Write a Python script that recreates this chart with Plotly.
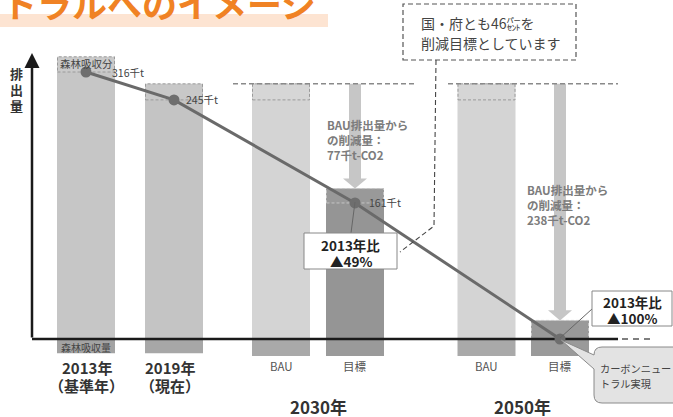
import plotly.graph_objects as go

W, H = 673, 417

# ---------------- data ----------------
bar_names = ["2013年", "2019年", "BAU", "目標", "BAU", "目標"]
bar_groups = ["2013", "2019", "2030", "2030", "2050", "2050"]
# emission heights as drawn in the picture (illustration, not strictly to scale), 千t-CO2
drawn_emission = [316, 283, 283, 161, 283, 0]
# forest-absorption box on top of each bar (drawn)
forest_sink = [18, 19, 19, 17, 19, 22]
# forest-absorption part drawn below the baseline
sink_below = [17, 17, 20, 20, 20, 20]
# points of the emission path (index into bars) and their labels
path_bars = [0, 1, 3, 5]
path_labels = ["316千t", "245千t", "161千t", ""]
reduction_labels = ["BAU排出量から<br>の削減量：<br>77千t-CO2",
                    "BAU排出量から<br>の削減量：<br>238千t-CO2"]
ratio_line1 = ["2013年比", "2013年比"]
ratio_line2 = ["▲49%", "▲100%"]
year_labels = ["2013年", "2019年"]
year_sub = ["（基準年）", "（現在）"]
period_labels = ["2030年", "2050年"]

# ---------------- layout constants ----------------
FONT = "Noto Sans CJK JP"
bar_centers = [86, 174, 281, 355, 486.5, 560]
bar_width = 58
base_px = 339
k = 267 / 316                      # px per unit
y_top = base_px / k
y_bot = -(H - base_px) / k

body_colors = ["#c6c6c6", "#c4c4c4", "#d4d4d4", "#959595", "#d4d4d4", "#959595"]
forest_colors = ["#cacaca", "#c8c8c8", "#d6d6d6", "#999999", "#d6d6d6", "#999999"]
below_colors = ["#a3a3a3", "#a7a7a7", "#a9a9a9", "#9a9a9a", "#a9a9a9", "#9a9a9a"]


def X(px):
    return px / W


def Y(py):
    return 1 - py / H


fig = go.Figure()

# bars: body, forest box, below-baseline part
fig.add_trace(go.Bar(x=bar_centers, y=drawn_emission, base=[0] * 6, width=bar_width,
                     marker=dict(color=body_colors, line=dict(width=0)), hoverinfo="skip"))
fig.add_trace(go.Bar(x=bar_centers, y=forest_sink, base=drawn_emission, width=bar_width,
                     marker=dict(color=forest_colors, line=dict(width=0)), hoverinfo="skip"))
fig.add_trace(go.Bar(x=bar_centers, y=sink_below, base=[-v for v in sink_below], width=bar_width,
                     marker=dict(color=below_colors, line=dict(width=0)), hoverinfo="skip"))

# dashed outlines of forest boxes
for dark in (False, True):
    xs, ys = [], []
    for i, c in enumerate(bar_centers):
        if (body_colors[i] == "#959595") != dark:
            continue
        x0, x1 = c - bar_width / 2 + 0.5, c + bar_width / 2 - 0.5
        y0, y1 = drawn_emission[i], drawn_emission[i] + forest_sink[i]
        xs += [x0, x1, x1, x0, x0, None]
        ys += [y0, y0, y1, y1, y0, None]
    fig.add_trace(go.Scatter(x=xs, y=ys, mode="lines", hoverinfo="skip",
                             line=dict(color="#c4c4c4" if dark else "#9a9a9a", width=1, dash="3px,2px")))

# baseline
fig.add_trace(go.Scatter(x=[32, 618], y=[0, 0], mode="lines", hoverinfo="skip",
                         line=dict(color="#1a1a1a", width=2.5)))
fig.add_trace(go.Scatter(x=[622, 650], y=[0, 0], mode="lines", hoverinfo="skip",
                         line=dict(color="#555555", width=1.5, dash="6px,5px")))

# emission path
px_pts = [bar_centers[i] for i in path_bars]
py_pts = [drawn_emission[i] for i in path_bars]
fig.add_trace(go.Scatter(x=px_pts, y=py_pts, mode="lines+markers", hoverinfo="skip",
                         line=dict(color="#6a6a6a", width=3),
                         marker=dict(color="#6e6e6e", size=11)))

shapes = []
# BAU level dashed line
bau_top = drawn_emission[2] + forest_sink[2]
for x0, x1 in [(233, 417), (448, 618)]:
    shapes.append(dict(type="line", xref="x", yref="y", x0=x0, x1=x1, y0=bau_top, y1=bau_top,
                       line=dict(color="#8a8a8a", width=1.5, dash="5px,3px"), layer="above"))

# reduction arrows (from BAU level down to target top)
for ti in (3, 5):
    c = bar_centers[ti]
    tip = drawn_emission[ti] + forest_sink[ti]
    hh = 12
    path = (f"M {c-6},{bau_top} L {c+6},{bau_top} L {c+6},{tip+hh} L {c+12},{tip+hh} "
            f"L {c},{tip} L {c-12},{tip+hh} L {c-6},{tip+hh} Z")
    shapes.append(dict(type="path", xref="x", yref="y", path=path,
                       fillcolor="#c6c6c6", line=dict(width=0), layer="below"))

# title band
shapes.append(dict(type="rect", xref="paper", yref="paper", x0=X(0), x1=X(328), y0=Y(27), y1=Y(14),
                   fillcolor="#fde4d2", line=dict(width=0), layer="below"))

# 46% callout box and connector
shapes.append(dict(type="rect", xref="paper", yref="paper", x0=X(403), x1=X(576), y0=Y(60), y1=Y(4),
                   fillcolor="rgba(0,0,0,0)", line=dict(color="#555555", width=1.2, dash="5px,3px")))
shapes.append(dict(type="path", xref="paper", yref="paper",
                   path=f"M {X(436)},{Y(60)} L {X(434)},{Y(226)} L {X(400)},{Y(252)}",
                   line=dict(color="#444444", width=1.1, dash="5px,3px")))

# ratio boxes with leader lines
shapes.append(dict(type="line", xref="paper", yref="paper", x0=X(355), y0=Y(202), x1=X(351), y1=Y(233),
                   line=dict(color="#666666", width=1)))
shapes.append(dict(type="rect", xref="paper", yref="paper", x0=X(304), x1=X(397), y0=Y(269), y1=Y(233),
                   fillcolor="white", line=dict(color="#888888", width=1)))
shapes.append(dict(type="line", xref="paper", yref="paper", x0=X(560), y0=Y(338), x1=X(592), y1=Y(309),
                   line=dict(color="#666666", width=1)))
shapes.append(dict(type="rect", xref="paper", yref="paper", x0=X(592), x1=X(672), y0=Y(326), y1=Y(291),
                   fillcolor="white", line=dict(color="#888888", width=1)))

# carbon neutral speech bubble
r = 8
bx0, by0, bx1, by1 = 594, 347, 690, 403
pts = [
    f"M {X(bx0+r)},{Y(by0)}", f"L {X(bx1)},{Y(by0)}", f"L {X(bx1)},{Y(by1)}", f"L {X(bx0+r)},{Y(by1)}",
    f"Q {X(bx0)},{Y(by1)} {X(bx0)},{Y(by1-r)}", f"L {X(bx0)},{Y(369)}", f"L {X(561)},{Y(340)}",
    f"L {X(bx0)},{Y(355)}", f"L {X(bx0)},{Y(by0+r)}", f"Q {X(bx0)},{Y(by0)} {X(bx0+r)},{Y(by0)}", "Z",
]
shapes.append(dict(type="path", xref="paper", yref="paper", path=" ".join(pts),
                   fillcolor="#e3e3e3", line=dict(color="#8a8a8a", width=1)))

annotations = []


def txt(x, y, s, size, color="#333333", bold=False, xanchor="center", yanchor="middle", align="center"):
    annotations.append(dict(xref="paper", yref="paper", x=X(x), y=Y(y), text=(f"<b>{s}</b>" if bold else s),
                            showarrow=False, xanchor=xanchor, yanchor=yanchor, align=align,
                            font=dict(family=FONT, size=size, color=color)))


# title
txt(0, 3, "トラルへのイメージ", 35, color="#f08224", bold=True, xanchor="left")

# y axis arrow and label
annotations.append(dict(xref="paper", yref="paper", x=X(32), y=Y(53), ax=0, ay=286, text="",
                        showarrow=True, arrowhead=2, arrowsize=1.2, arrowwidth=2.5, arrowcolor="#1a1a1a"))
for j, ch in enumerate("排出量"):
    txt(16, 73 + j * 16, ch, 13, color="#333333", bold=True)

# forest labels
txt(bar_centers[0], 64, "森林吸収分", 10.5, color="#444444")
txt(bar_centers[0], 347, "森林吸収量", 10, color="#444444")

# point labels
for i, lab in enumerate(path_labels):
    if not lab:
        continue
    bi = path_bars[i]
    py = base_px - drawn_emission[bi] * k
    txt(bar_centers[bi] + [24, 10, 12][i], py, lab, 10.5, color="#444444", xanchor="left")

# reduction texts
txt(325, 140, reduction_labels[0], 11.5, color="#7c7c7c", bold=True, xanchor="left", align="left")
txt(525, 205, reduction_labels[1], 11.5, color="#7c7c7c", bold=True, xanchor="left", align="left")

# ratio box texts
txt(350.5, 245, ratio_line1[0], 13.5, color="#222222", bold=True)
txt(350.5, 261, ratio_line2[0], 13.5, color="#222222", bold=True)
txt(632, 302, ratio_line1[1], 13.5, color="#222222", bold=True)
txt(632, 318, ratio_line2[1], 13.5, color="#222222", bold=True)

# 46% callout
txt(419, 23, "国・府とも46㌫を", 14, color="#444444", xanchor="left")
txt(419, 43, "削減目標としています", 14, color="#444444", xanchor="left")

# carbon neutral bubble text
txt(598, 368, "カーボンニュー", 10.2, color="#444444", xanchor="left")
txt(598, 383, "トラル実現", 10.2, color="#444444", xanchor="left")

# category labels
txt(87, 367, year_labels[0], 15, bold=True)
txt(86, 385, year_sub[0], 15, bold=True)
txt(170, 367, year_labels[1], 15, bold=True)
txt(170, 385, year_sub[1], 15, bold=True)
for i in (2, 3, 4, 5):
    txt(bar_centers[i], 366, bar_names[i], 11.5, color="#555555")
txt(318, 406, period_labels[0], 17, bold=True)
txt(522, 406, period_labels[1], 17, bold=True)

fig.update_layout(
    width=W, height=H, margin=dict(l=0, r=0, t=0, b=0),
    paper_bgcolor="white", plot_bgcolor="white", showlegend=False, barmode="overlay",
    xaxis=dict(range=[0, W], visible=False, fixedrange=True),
    yaxis=dict(range=[y_bot, y_top], visible=False, fixedrange=True),
    shapes=shapes, annotations=annotations,
)

fig.write_html("out.html", config={"displayModeBar": False},
               post_script="document.body.style.margin='0';document.body.style.overflow='hidden';")
